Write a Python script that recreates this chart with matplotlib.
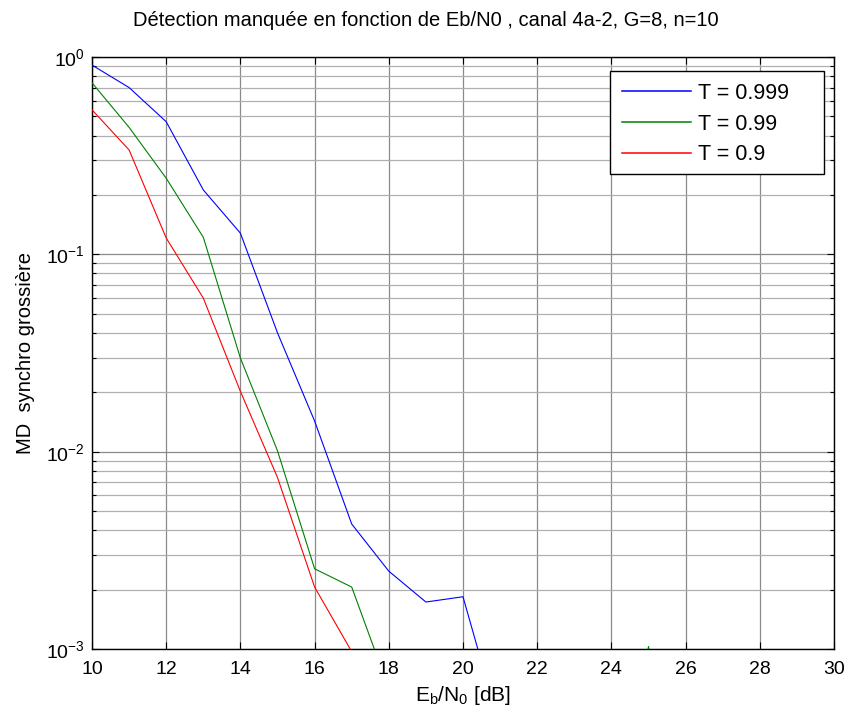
import numpy as np
import matplotlib
matplotlib.use("Agg")
import matplotlib.pyplot as plt
from matplotlib.patches import Rectangle
from matplotlib.ticker import LogLocator, MultipleLocator, NullFormatter

plt.rcParams['font.family'] = ['Liberation Sans', 'DejaVu Sans']
plt.rcParams['mathtext.default'] = 'regular'
plt.rcParams['mathtext.fontset'] = 'custom'
plt.rcParams['mathtext.rm'] = 'Liberation Sans'

ebn0 = [10, 11, 12, 13, 14, 15, 16, 17, 18, 19, 20, 21, 22, 23, 24, 25, 26, 27, 28, 29, 30]
md_t0999 = [0.91, 0.70, 0.47, 0.212, 0.128, 0.040, 0.0143, 0.0043, 0.00248, 0.00173, 0.00184,
            4.0e-4, 1e-4, 1e-4, 1e-4, 1e-4, 1e-4, 1e-4, 1e-4, 1e-4, 1e-4]
md_t099 = [0.74, 0.44, 0.243, 0.122, 0.0298, 0.0101, 0.00255, 0.00206, 6.3e-4, 1e-4, 1e-4,
           1e-4, 1e-4, 1e-4, 1e-4, 1.03e-3, 1e-4, 1e-4, 1e-4, 1e-4, 1e-4]
md_t09 = [0.54, 0.338, 0.121, 0.060, 0.0202, 0.0074, 0.00206, 9.7e-4, 1e-4, 1e-4, 1e-4,
          1e-4, 1e-4, 1e-4, 1e-4, 1e-4, 1e-4, 1e-4, 1e-4, 1e-4, 1e-4]
labels = ['T = 0.999', 'T = 0.99', 'T = 0.9']
colors = [(0, 0, 1), (0, 0.5, 0), (1, 0, 0)]
title = 'Détection manquée en fonction de Eb/N0 , canal 4a-2, G=8, n=10'

W, H = 857, 722
AX_L, AX_R, AX_T, AX_B = 92, 834, 57, 649
fig = plt.figure(figsize=(W / 100, H / 100), dpi=100)
ax = fig.add_axes([AX_L / W, (H - AX_B) / H, (AX_R - AX_L) / W, (AX_B - AX_T) / H])

for ys, c, lab in zip([md_t0999, md_t099, md_t09], colors, labels):
    ax.plot(ebn0, ys, color=c, lw=0.8, label=lab, zorder=3)

ax.set_yscale('log')
ax.set_xlim(10, 30)
ax.set_ylim(1e-3, 1)
ax.xaxis.set_major_locator(MultipleLocator(2))
ax.yaxis.set_major_locator(LogLocator(base=10, numticks=10))
ax.yaxis.set_minor_locator(LogLocator(base=10, subs=np.arange(2, 10), numticks=20))
ax.yaxis.set_minor_formatter(NullFormatter())

ax.grid(True, which='major', color='#8a8a8a', lw=0.9, ls='-')
ax.grid(True, which='minor', axis='y', color='#b0b0b0', lw=0.9, ls='-')
ax.set_axisbelow(True)

ax.tick_params(which='both', direction='in', top=True, right=True, labelsize=14, width=0.8)
ax.tick_params(which='major', length=5)
ax.tick_params(axis='x', which='major', pad=9)
ax.tick_params(axis='y', which='major', pad=5)
ax.tick_params(which='minor', length=3)
for s in ax.spines.values():
    s.set_linewidth(1.0)
    s.set_color('black')

fig.text(133 / W, 1 - 26 / H, title, fontsize=14.5, ha='left', va='baseline')
ax.set_xlabel(r'E$_b$/N$_0$ [dB]', fontsize=15, labelpad=4)
ax.set_ylabel('MD  synchro grossière', fontsize=14.5, labelpad=8)


def ax_x(px):
    return (px - AX_L) / (AX_R - AX_L)


def ax_y(py):
    return 1 - (py - AX_T) / (AX_B - AX_T)


box_l, box_r, box_t, box_b = 610, 824, 71, 174
ax.add_patch(Rectangle((ax_x(box_l), ax_y(box_b)), ax_x(box_r) - ax_x(box_l),
                       ax_y(box_t) - ax_y(box_b), transform=ax.transAxes,
                       facecolor='white', edgecolor='black', lw=1.0, zorder=5))
leg = ax.legend(loc='upper left', fontsize=15.5, frameon=False,
                handlelength=3.2, handletextpad=0.35, borderpad=0.55, labelspacing=0.45,
                bbox_to_anchor=(ax_x(box_l), ax_y(box_t)),
                bbox_transform=ax.transAxes, borderaxespad=0.0)
leg.set_zorder(6)
for h, c in zip(leg.get_lines(), colors):
    h.set_color(c)
    h.set_linewidth(1.1)

fig.savefig('out.png', dpi=100)
